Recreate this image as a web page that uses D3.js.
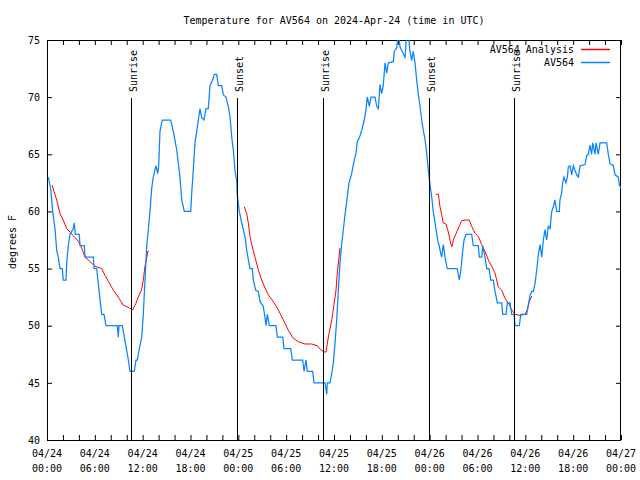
<!DOCTYPE html>
<html><head><meta charset="utf-8">
<script src="https://cdn.jsdelivr.net/npm/d3@7"></script>
<style>
body{margin:0;background:#fff}
svg{display:block}
text{font-family:"DejaVu Sans Mono","Liberation Mono",monospace;font-size:10px;fill:#000}
</style>
</head><body>
<svg id="chart" width="640" height="480"></svg>
<script>
// ---------- data ----------
const chartTitle = "Temperature for AV564 on 2024-Apr-24 (time in UTC)";
const yAxisTitle = "degrees F";
const seriesNames = ["AV564 Analysis", "AV564"];
const startTime = Date.UTC(2024, 3, 24, 0, 0);   // 04/24 00:00 UTC
const endTime = Date.UTC(2024, 3, 27, 0, 0);     // 04/27 00:00 UTC
const yTickValues = [40, 45, 50, 55, 60, 65, 70, 75];
// sun events: [hours after 04/24 00:00 UTC, label]
const sunEvents = [[10.57, "Sunrise"], [23.87, "Sunset"], [34.66, "Sunrise"], [47.96, "Sunset"], [58.62, "Sunrise"]];

// AV564 observations: [hours after 04/24 00:00 UTC, degrees F]
const av564 = [[0.16,63],[0.46,62],[0.72,60],[1.0,58.5],[1.22,56.6],[1.42,56],[1.63,55],[1.92,55],[2.04,54],[2.38,54],[2.47,55.5],[2.67,57],[2.89,58],[3.30,58.5],[3.42,59],[3.55,58],[4.05,58],[4.14,57],[4.68,57],[4.77,56],[5.81,56],[5.90,55],[6.23,55],[6.43,53.7],[6.65,52.3],[6.86,51],[7.15,51],[7.40,50],[8.82,50],[8.94,49],[9.03,50],[9.45,50],[9.70,49],[9.91,48.2],[10.20,47],[10.41,46],[10.95,46],[11.16,47],[11.33,47],[11.58,48],[11.88,49],[12.08,51],[12.29,54],[12.51,57],[12.71,58.4],[12.92,60],[13.13,62],[13.33,63],[13.67,64],[13.89,63.3],[14.01,64],[14.17,67],[14.46,68],[15.52,68],[15.84,67],[16.27,65.4],[16.68,63],[16.90,61],[17.22,60],[18.03,60],[18.15,61.6],[18.35,63.6],[18.56,66],[18.78,67],[19.19,69],[19.41,68.2],[19.69,68],[19.94,69],[20.23,69],[20.45,71],[20.78,71.5],[20.98,72],[21.28,72],[21.49,71],[21.91,71],[22.12,70.2],[22.45,70],[22.74,69.2],[22.96,68.3],[23.17,66.5],[23.37,65.4],[23.58,63.6],[23.80,62.6],[23.87,61.4],[24.12,60],[24.42,59],[24.62,58.4],[24.84,57.8],[25.05,56.6],[25.25,55.8],[25.46,55],[25.75,55],[25.88,54],[26.18,53.1],[26.50,53],[26.72,52.1],[27.13,51.7],[27.35,50.7],[27.47,50],[27.63,51],[27.89,50],[28.73,50],[28.89,49],[29.57,49],[29.73,48],[30.57,48],[30.77,47],[32.07,47],[32.24,46],[32.49,47],[32.65,46],[33.33,46],[33.49,45],[34.87,45],[35.09,44],[35.16,45],[35.50,45],[35.71,45.8],[35.91,46.7],[36.13,48.5],[36.34,50.5],[36.54,53.1],[36.75,55.5],[36.97,57.2],[37.17,58.4],[37.38,59.7],[37.67,61.3],[37.88,62.5],[38.22,63.3],[38.42,64.1],[38.76,65.1],[38.92,66.1],[39.26,66.6],[39.47,67.1],[39.80,68],[40.01,68.9],[40.18,70],[40.43,69.2],[40.64,70],[41.14,70],[41.36,69.2],[41.56,69],[41.77,71.1],[41.98,70.3],[42.18,71],[42.40,73],[42.61,72.1],[42.81,73],[43.44,73.1],[43.56,74],[43.86,74.3],[44.06,75.6],[44.28,74.4],[44.49,74.1],[44.69,73.8],[44.91,73.5],[45.12,75.6],[45.32,75.6],[45.53,74],[45.74,73.2],[45.94,74],[46.16,73],[46.37,71.5],[46.57,70.3],[46.79,69.2],[47.00,68],[47.20,67.1],[47.42,66.3],[47.63,65.1],[47.83,63.6],[47.96,62.8],[48.25,61.3],[48.45,60],[48.80,58.4],[49.09,57.2],[49.17,57.1],[49.39,56.3],[49.51,56],[49.71,57.1],[49.92,56],[50.21,55],[51.46,55],[51.71,54],[51.89,54.7],[52.14,56.5],[52.31,57.5],[52.56,58],[53.27,58],[53.47,57],[54.10,57],[54.23,56],[54.53,56],[54.65,57],[54.94,56],[55.16,55],[55.44,55],[55.66,54],[55.98,54],[56.20,53],[56.49,52],[57.04,52],[57.16,51],[57.58,51],[57.74,52],[58.08,52],[58.29,51],[58.58,51],[58.71,50],[59.25,50],[59.42,51],[60.17,51],[60.38,51.8],[60.59,52.7],[60.81,53],[61.01,53],[61.22,53.7],[61.43,54.9],[61.63,56.2],[61.84,57.1],[62.06,56],[62.26,57.5],[62.47,58.4],[62.68,57.5],[62.88,58.7],[63.10,58.5],[63.31,60],[63.51,60.4],[63.72,61],[63.93,60],[64.26,60],[64.34,61],[64.55,61.6],[64.68,62.5],[64.85,63],[65.10,62.5],[65.27,63],[65.39,63.9],[65.60,64],[65.82,63.2],[66.02,64],[66.44,63.2],[66.65,63],[66.86,64],[67.49,64.1],[67.70,64.9],[67.90,65],[68.11,65.8],[68.32,65],[68.45,66],[68.74,65],[68.87,66],[69.15,65],[69.37,66],[70.20,66],[70.41,65],[70.62,64.2],[71.04,64],[71.25,63.2],[71.67,63],[71.80,62.3],[72.0,62]];

// AV564 Analysis: [hours after 04/24 00:00 UTC, degrees F]; null = gap
const av564Analysis = [[0.66,62.3],[0.88,61.7],[1.22,61.0],[1.63,59.8],[2.04,59.25],[2.47,58.5],[2.89,58.2],[3.51,57.7],[3.93,57.4],[4.14,57.1],[4.35,56.8],[4.77,56.0],[5.39,55.6],[6.02,55.2],[6.86,55.0],[7.28,54.4],[7.69,53.9],[8.32,53.1],[8.94,52.5],[9.57,51.8],[10.20,51.6],[10.75,51.4],[11.16,51.96],[11.45,52.5],[11.88,53.2],[12.08,54.0],[12.29,55.2],[12.51,55.9],[12.63,56.5],[12.79,56.5],
[18.0,null],
[24.75,60.4],[25.05,59.8],[25.25,59.0],[25.46,57.8],[25.68,57.1],[26.09,56.0],[26.50,54.9],[26.93,54.0],[27.35,53.3],[27.76,52.7],[28.39,52.1],[29.01,51.4],[29.64,50.5],[30.27,49.6],[30.90,48.9],[31.52,48.6],[32.36,48.4],[33.20,48.4],[33.91,48.25],[34.33,47.9],[34.75,47.7],[35.0,47.7],[35.29,49.0],[35.71,50.5],[35.91,51.4],[36.25,53.1],[36.41,54.6],[36.63,56.0],[36.75,56.8],
[42.0,null],
[48.76,61.5],[49.09,61.5],[49.30,60.4],[49.51,59.7],[49.71,59.0],[50.05,58.9],[50.34,58.2],[50.64,57.2],[50.77,56.9],[50.97,57.5],[51.39,58.2],[52.02,59.2],[52.65,59.25],[52.97,59.25],[53.27,58.7],[53.69,58.1],[54.10,57.8],[54.53,57.1],[54.94,56.5],[55.36,55.75],[55.78,55.2],[56.20,54.6],[56.61,53.4],[57.04,53.1],[57.45,52.4],[57.86,52.0],[58.29,51.4],[58.71,51.0],[59.33,50.9],[59.96,51.0],[60.25,51.4],[60.50,52.1],[60.81,52.6]];

// ---------- drawing ----------
const colors = {analysis: "#ff0000", obs: "#0a84ff"};
const plot = {left: 47, right: 621, top: 40, bottom: 440};
const svg = d3.select("#chart");
const toDate = h => new Date(startTime + h * 3600000);

const x = d3.scaleUtc().domain([new Date(startTime), new Date(endTime)]).range([plot.left, plot.right]);
const y = d3.scaleLinear().domain([40, 75]).range([plot.bottom, plot.top]);

svg.append("defs").append("clipPath").attr("id", "clip")
  .append("rect").attr("x", plot.left).attr("y", plot.top)
  .attr("width", plot.right - plot.left).attr("height", plot.bottom - plot.top);

// title
svg.append("text").attr("x", (plot.left + plot.right) / 2).attr("y", 23.5)
  .attr("text-anchor", "middle").text(chartTitle);

// y axis title
svg.append("text").attr("transform", "translate(15.5,242) rotate(-90)")
  .attr("text-anchor", "middle").text(yAxisTitle);

const minorTicks = d3.utcHour.every(2).range(new Date(startTime), new Date(endTime + 1));
const majorTicks = d3.utcHour.every(6).range(new Date(startTime), new Date(endTime + 1));

// bottom & top ticks
svg.append("g").attr("transform", `translate(0,${plot.bottom})`)
  .call(d3.axisBottom(x).tickValues(minorTicks).tickSizeInner(-5).tickSizeOuter(0).tickFormat(""))
  .call(g => g.select(".domain").remove());
svg.append("g").attr("transform", `translate(0,${plot.top})`)
  .call(d3.axisTop(x).tickValues(minorTicks).tickSizeInner(-5).tickSizeOuter(0).tickFormat(""))
  .call(g => g.select(".domain").remove());

// x labels (two lines)
const fmtDate = d3.utcFormat("%m/%d"), fmtTime = d3.utcFormat("%H:%M");
const xl = svg.append("g").selectAll("text").data(majorTicks).join("text")
  .attr("text-anchor", "middle").attr("transform", d => `translate(${x(d)},0)`);
xl.append("tspan").attr("x", 0).attr("y", 457).text(d => fmtDate(d));
xl.append("tspan").attr("x", 0).attr("y", 471.5).text(d => fmtTime(d));

// left & right ticks
svg.append("g").attr("transform", `translate(${plot.left},0)`)
  .call(d3.axisLeft(y).tickValues(yTickValues).tickSizeInner(-5).tickSizeOuter(0).tickPadding(7).tickFormat(d3.format("d")))
  .call(g => g.select(".domain").remove())
  .call(g => g.selectAll("text").style("font-family", '"DejaVu Sans Mono",monospace').style("font-size", "10px"));
svg.append("g").attr("transform", `translate(${plot.right},0)`)
  .call(d3.axisRight(y).tickValues(yTickValues).tickSizeInner(-5).tickSizeOuter(0).tickFormat(""))
  .call(g => g.select(".domain").remove());

// border
svg.append("rect").attr("x", plot.left + 0.5).attr("y", plot.top + 0.5)
  .attr("width", plot.right - plot.left - 1).attr("height", plot.bottom - plot.top)
  .attr("fill", "none").attr("stroke", "#000").attr("stroke-width", 1);

// series
const line = d3.line().defined(d => d[1] != null).x(d => x(toDate(d[0]))).y(d => y(d[1]));
const plotG = svg.append("g").attr("clip-path", "url(#clip)");
plotG.append("path").datum(av564Analysis).attr("d", line)
  .attr("fill", "none").attr("stroke", colors.analysis).attr("stroke-width", 1);
plotG.append("path").datum(av564).attr("d", line)
  .attr("fill", "none").attr("stroke", colors.obs).attr("stroke-width", 1.25);

// sunrise / sunset markers
const sg = svg.append("g").selectAll("g").data(sunEvents).join("g")
  .attr("transform", d => `translate(${Math.round(x(toDate(d[0]))) + 0.5},0)`);
sg.append("line").attr("y1", 98).attr("y2", plot.bottom).attr("stroke", "#000").attr("stroke-width", 1);
sg.append("text").attr("transform", "translate(5,92) rotate(-90)").text(d => d[1]);

// legend
const legend = svg.append("g").selectAll("g").data([
  {name: seriesNames[0], color: colors.analysis},
  {name: seriesNames[1], color: colors.obs}]).join("g")
  .attr("transform", (d, i) => `translate(0,${49.5 + i * 13})`);
legend.append("text").attr("x", 574).attr("y", 3.5).attr("text-anchor", "end").text(d => d.name);
legend.append("line").attr("x1", 581).attr("x2", 610).attr("stroke", d => d.color).attr("stroke-width", 1.5);
</script>
</body></html>
